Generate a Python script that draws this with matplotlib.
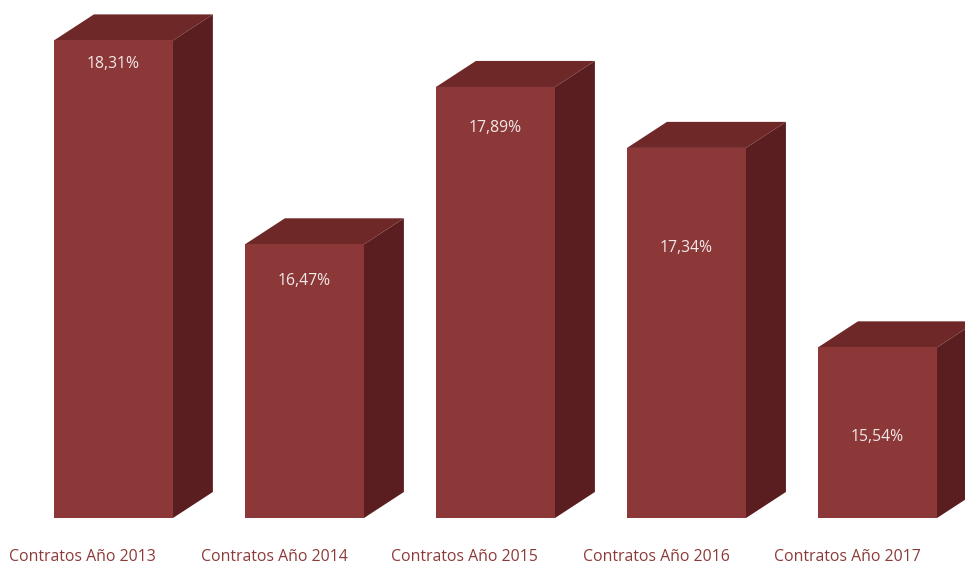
import matplotlib.pyplot as plt
from matplotlib.patches import Polygon

# Datos del gráfico
categorias = ['Contratos Año 2013', 'Contratos Año 2014', 'Contratos Año 2015',
              'Contratos Año 2016', 'Contratos Año 2017']
valores = [18.31, 16.47, 17.89, 17.34, 15.54]
etiquetas = ['18,31%', '16,47%', '17,89%', '17,34%', '15,54%']

# Posición vertical de cada etiqueta (en unidades del eje)
etiqueta_y = [18.10, 16.14, 17.52, 16.44, 14.73]

base = 14.0
ancho = 0.623
dx, dy = 0.209, 0.235  # profundidad del efecto 3D

c_frente = '#8C3838'
c_arriba = '#6E2828'
c_lado = '#5A1E20'

fig = plt.figure(figsize=(9.65, 5.64), dpi=100)
ax = fig.add_axes([0, 0, 1, 1])
ax.set_xlim(-0.594, 4.458)
ax.set_ylim(13.585, 18.675)
ax.axis('off')

for i, v in enumerate(valores):
    izq, der = i - ancho / 2, i + ancho / 2
    # cara lateral
    ax.add_patch(Polygon([(der, base), (der + dx, base + dy), (der + dx, v + dy), (der, v)],
                         closed=True, facecolor=c_lado, edgecolor='none'))
    # cara superior
    ax.add_patch(Polygon([(izq, v), (izq + dx, v + dy), (der + dx, v + dy), (der, v)],
                         closed=True, facecolor=c_arriba, edgecolor='none'))
    # cara frontal
    ax.bar(i, v - base, bottom=base, width=ancho, color=c_frente, linewidth=0)
    ax.text(i, etiqueta_y[i], etiquetas[i], ha='center', va='center',
            color='#F2E8E8', fontsize=11.3, family='Open Sans')
    ax.text(i - 0.16, 13.648, categorias[i], ha='center', va='center',
            color='#8C3A3A', fontsize=11.4, family='Open Sans')

fig.savefig('out.png', dpi=100, facecolor='white')
